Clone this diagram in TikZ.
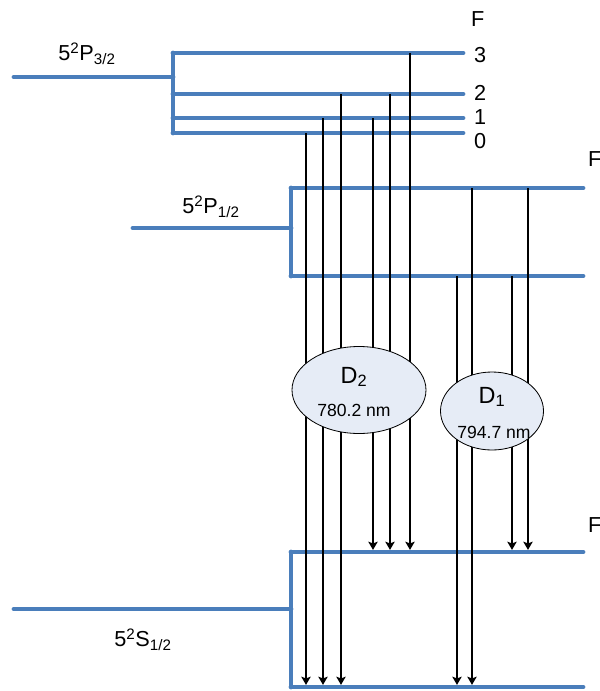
\documentclass[tikz,border=0pt]{standalone}
\usepackage{fontspec}
\setmainfont{Liberation Sans}
\usetikzlibrary{arrows.meta,shapes.geometric}
\definecolor{levelBlue}{HTML}{4A7EBB}
\definecolor{bandFill}{HTML}{E6ECF6}

\begin{document}
\begin{tikzpicture}[
  x=0.03cm,
  y=-0.03cm,
  level/.style={draw=levelBlue, line width=4.1pt, line cap=round},
  trans/.style={-{Stealth[length=7pt,width=8pt,inset=1.5pt]}, line width=2.1pt, draw=black, shorten >=1.8pt},
  lbl/.style={font=\fontsize{18.5}{22}\selectfont, inner sep=0pt},
  flbl/.style={lbl, anchor=west},
  small/.style={font=\fontsize{15}{18}\selectfont, inner sep=0pt},
  band/.style={ellipse, draw=black, line width=0.7pt, fill=bandFill, inner sep=0pt}
]
\useasboundingbox (0,0) rectangle (600,691);

\coordinate (p3in)   at (14,77);
\coordinate (p3fork) at (173,77);
\coordinate (p3f3)   at (173,53);
\coordinate (p3f2)   at (173,94);
\coordinate (p3f1)   at (173,118);
\coordinate (p3f0)   at (173,133);
\coordinate (p3end)  at (463,0);

\coordinate (p1in)   at (133,228);
\coordinate (p1fork) at (291,228);
\coordinate (p1up)   at (291,188);
\coordinate (p1low)  at (291,276);
\coordinate (p1end)  at (583,0);

\coordinate (s1in)   at (14,609);
\coordinate (s1fork) at (291,609);
\coordinate (s1up)   at (291,552);
\coordinate (s1low)  at (291,687);
\coordinate (s1end)  at (583,0);

\draw[level] (p3in) -- (p3fork);
\draw[level] (p3f3) -- (p3f0);
\draw[level] (p3f3) -- (p3f3 -| p3end);
\draw[level] (p3f2) -- (p3f2 -| p3end);
\draw[level] (p3f1) -- (p3f1 -| p3end);
\draw[level] (p3f0) -- (p3f0 -| p3end);

\draw[level] (p1in) -- (p1fork);
\draw[level] (p1up) -- (p1low);
\draw[level] (p1up) -- (p1up -| p1end);
\draw[level] (p1low) -- (p1low -| p1end);

\draw[level] (s1in) -- (s1fork);
\draw[level] (s1up) -- (s1low);
\draw[level] (s1up) -- (s1up -| s1end);
\draw[level] (s1low) -- (s1low -| s1end);

\coordinate (t30) at (306,133);
\coordinate (t31) at (323,118);
\coordinate (t32) at (341,94);
\coordinate (t41) at (373,118);
\coordinate (t42) at (390,94);
\coordinate (t43) at (410,53);
\coordinate (u1)  at (457,276);
\coordinate (u2)  at (472,188);
\coordinate (u3)  at (512,276);
\coordinate (u4)  at (528,188);

\draw[trans] (t30) -- (t30 |- s1low);
\draw[trans] (t31) -- (t31 |- s1low);
\draw[trans] (t32) -- (t32 |- s1low);
\draw[trans] (t41) -- (t41 |- s1up);
\draw[trans] (t42) -- (t42 |- s1up);
\draw[trans] (t43) -- (t43 |- s1up);
\draw[trans] (u1) -- (u1 |- s1low);
\draw[trans] (u2) -- (u2 |- s1low);
\draw[trans] (u3) -- (u3 |- s1up);
\draw[trans] (u4) -- (u4 |- s1up);

\node[band, minimum width=4.02cm, minimum height=2.61cm] (dtwo) at (359,390) {};
\node[band, minimum width=3.09cm, minimum height=2.34cm] (done) at (492,411) {};
\node[lbl, font=\fontsize{20}{24}\selectfont] (dtwoname) at (354,377) {D\textsubscript{2}};
\node[small] (dtwowave) at (354,410) {780.2 nm};
\node[lbl, font=\fontsize{20}{24}\selectfont] (donename) at (492,397) {D\textsubscript{1}};
\node[small] (donewave) at (494,432) {794.7 nm};

\node[lbl] (p3name) at (87,54) {5\textsuperscript{2}P\textsubscript{3/2}};
\node[lbl] (p1name) at (211,207) {5\textsuperscript{2}P\textsubscript{1/2}};
\node[lbl] (s1name) at (143,640) {5\textsuperscript{2}S\textsubscript{1/2}};

\node[flbl] (ftop) at (471,19) {F};
\node[flbl] (f3) at (474,55) {3};
\node[flbl] (f2) at (474,93) {2};
\node[flbl] (f1) at (474,117) {1};
\node[flbl] (f0) at (474,141) {0};
\node[flbl] (fmid) at (588,159) {F};
\node[flbl] (fbot) at (588,525) {F};
\end{tikzpicture}
\end{document}
